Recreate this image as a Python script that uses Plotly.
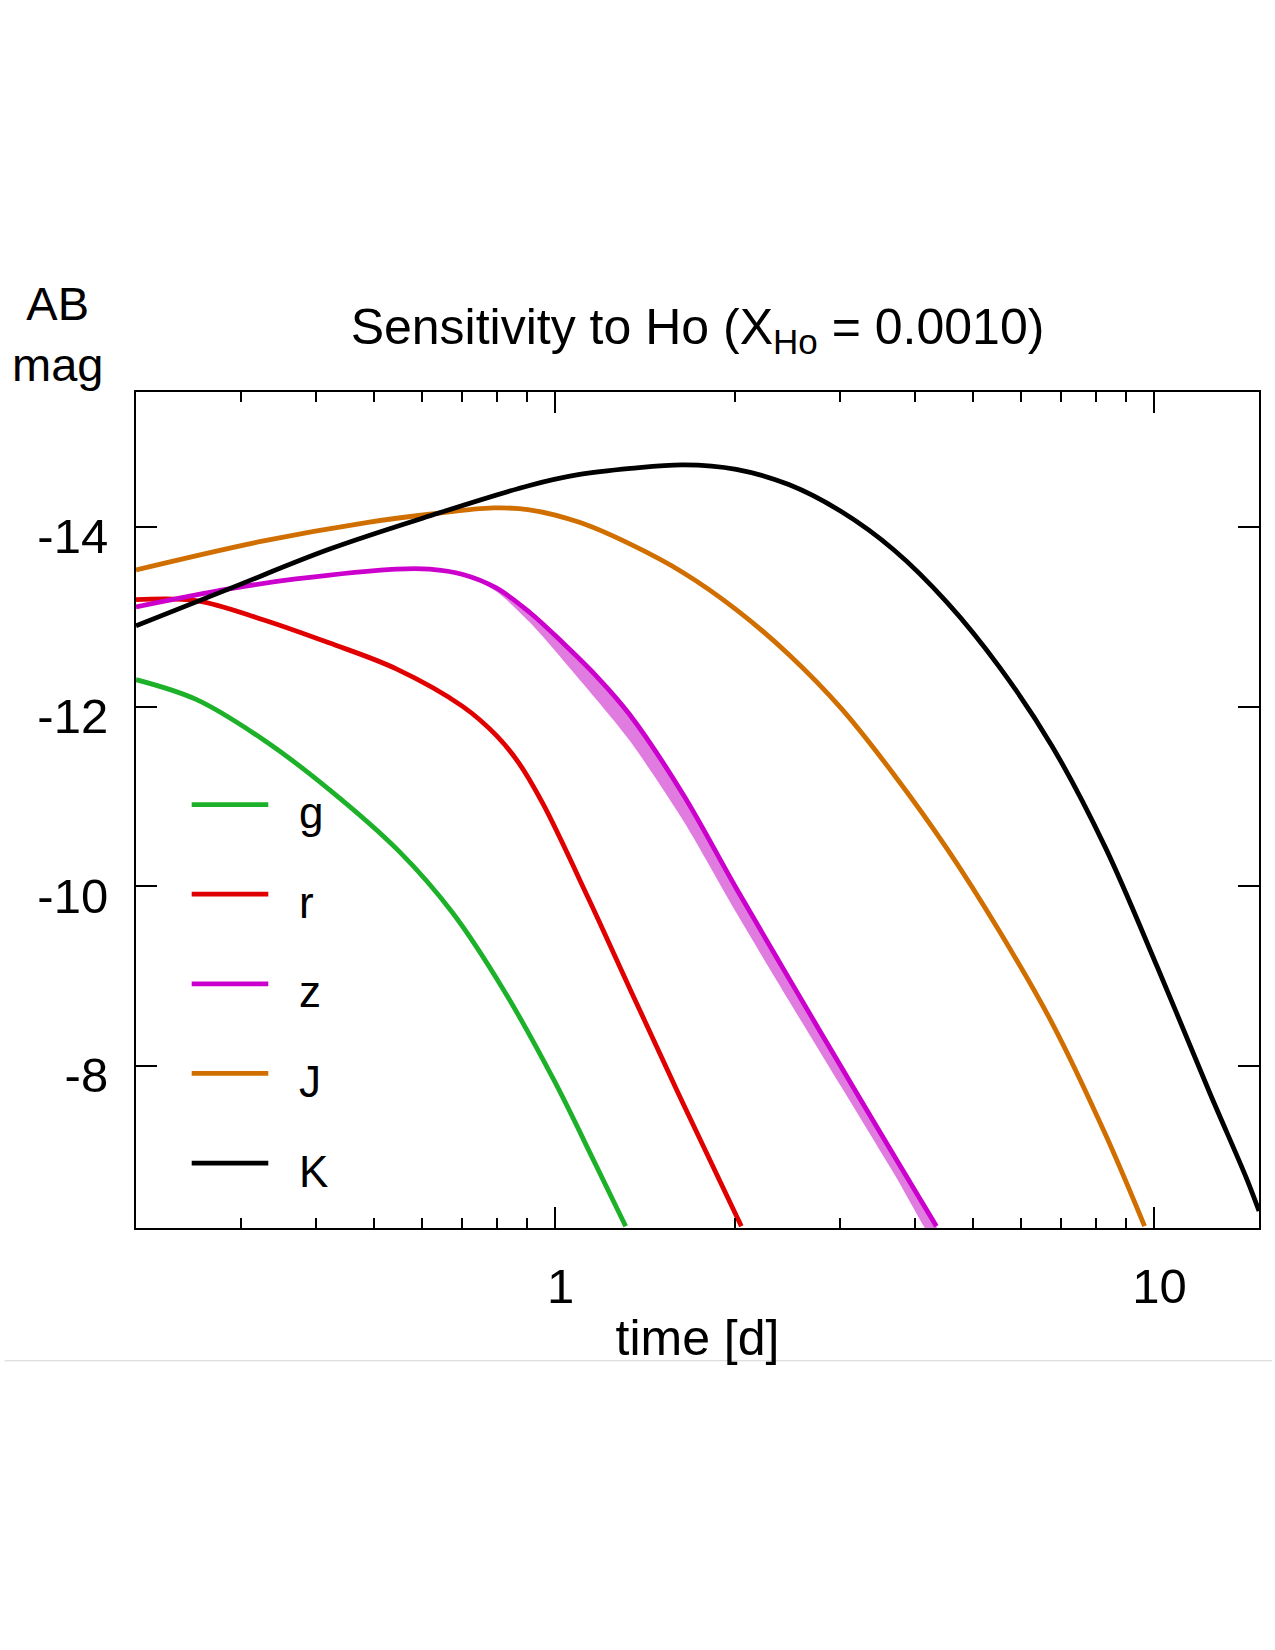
import math
import plotly.graph_objects as go

# ---------------- data ----------------
band_names = ["g", "r", "z", "J", "K"]
band_colors = ["#1db12a", "#e00000", "#cc00cc", "#d06f00", "#000000"]

t_g = [0.2, 0.252, 0.325, 0.42, 0.55, 0.675, 0.82, 1.0, 1.17, 1.314]
m_g = [-12.30, -12.08, -11.64, -11.08, -10.39, -9.71, -8.86, -7.83, -6.91, -6.22]

t_r = [0.2, 0.252, 0.325, 0.42, 0.544, 0.703, 0.799, 0.87, 0.956, 1.14, 1.34, 1.64, 2.05]
m_r = [-13.19, -13.18, -12.97, -12.71, -12.42, -12.00, -11.68, -11.38, -10.92, -9.86, -8.84, -7.58, -6.22]

t_z = [0.2, 0.286, 0.37, 0.544, 0.618, 0.703, 0.799, 0.908, 1.032, 1.174, 1.335, 1.64, 2.01, 2.46, 3.01, 3.69, 4.34]
m_z = [-13.11, -13.31, -13.42, -13.53, -13.53, -13.47, -13.32, -13.05, -12.71, -12.34, -11.91, -11.02, -9.98, -8.98, -7.99, -7.00, -6.22]
m_z_alt = [-13.11, -13.31, -13.42, -13.53, -13.53, -13.47, -13.28, -12.94, -12.52, -12.08, -11.62, -10.73, -9.71, -8.73, -7.77, -6.80, -6.02]

t_J = [0.2, 0.325, 0.488, 0.618, 0.79, 0.908, 1.10, 1.335, 1.64, 2.01, 2.46, 3.01, 3.69, 4.52, 5.53, 6.77, 8.3, 9.66]
m_J = [-13.52, -13.84, -14.05, -14.14, -14.21, -14.19, -14.05, -13.81, -13.49, -13.08, -12.58, -11.98, -11.24, -10.42, -9.50, -8.48, -7.25, -6.22]

t_K = [0.2, 0.286, 0.42, 0.618, 0.908, 1.095, 1.34, 1.64, 2.01, 2.46, 3.01, 3.69, 4.52, 5.53, 6.77, 8.3, 10.15, 12.4, 14.28, 15.0]
m_K = [-12.90, -13.31, -13.75, -14.12, -14.46, -14.58, -14.65, -14.69, -14.64, -14.47, -14.17, -13.74, -13.16, -12.44, -11.56, -10.44, -9.10, -7.71, -6.76, -6.39]

x_major = [1, 10]
x_major_text = ["1", "10"]
x_minor = [0.3, 0.4, 0.5, 0.6, 0.7, 0.8, 0.9, 2, 3, 4, 5, 6, 7, 8, 9]
y_ticks = [-14, -12, -10, -8]
y_ticktext = ["-14", "-12", "-10", "-8"]

title_text = "Sensitivity to Ho (X<sub>Ho</sub> = 0.0010)"
x_title = "time [d]"
y_title = "AB<br>mag"

# ---------------- figure ----------------
FONT = "Liberation Sans, Arial, Helvetica, sans-serif"
W, H = 1275, 1650
L, R, T, B = 136, 16, 392, 422
LW = 4.8

fig = go.Figure()

# sensitivity band for z
fig.add_trace(go.Scatter(
    x=t_z + t_z[::-1], y=m_z + m_z_alt[::-1],
    mode="lines", fill="toself", fillcolor="#e07ce0",
    line=dict(width=0, color="#e07ce0", shape="spline", smoothing=0.8),
    hoverinfo="skip", showlegend=False))

series = {"g": (t_g, m_g), "r": (t_r, m_r), "z": (t_z, m_z), "J": (t_J, m_J), "K": (t_K, m_K)}
for name, col in zip(band_names, band_colors):
    tx, my = series[name]
    fig.add_trace(go.Scatter(
        x=tx, y=my, mode="lines", name=name,
        line=dict(color=col, width=LW, shape="spline", smoothing=1.0),
        showlegend=False))

# hand-drawn legend (long line samples like the original)
leg_x0, leg_x1, leg_tx = 0.0496, 0.1178, 0.1431
leg_top, leg_step = 0.5065, 0.1072
shapes = []
annotations = []
for i, (name, col) in enumerate(zip(band_names, band_colors)):
    yy = leg_top - i * leg_step
    shapes.append(dict(type="line", xref="x domain", yref="y domain",
                       x0=leg_x0, x1=leg_x1, y0=yy, y1=yy,
                       line=dict(color=col, width=LW)))
    annotations.append(dict(text=name, xref="x domain", yref="y domain",
                            x=leg_tx, y=yy, xanchor="left", yanchor="middle",
                            yshift=-8, showarrow=False,
                            font=dict(family=FONT, size=44, color="black")))

# y-axis title at upper left (two lines)
annotations.append(dict(text=y_title, xref="paper", yref="paper",
                        x=-0.0698, y=(1228.3 - 335) / 835.8, xanchor="center", yanchor="middle",
                        align="center", showarrow=False,
                        font=dict(family=FONT, size=47, color="black")))

# faint page separator line below the chart
shapes.append(dict(type="line", xref="paper", yref="paper",
                   x0=-0.117, x1=1.0116, y0=-0.1588, y1=-0.1588,
                   line=dict(color="#d4d4d4", width=1)))

fig.update_layout(
    width=W, height=H,
    margin=dict(l=L, r=R, t=T, b=B, pad=0),
    paper_bgcolor="white", plot_bgcolor="white",
    font=dict(family=FONT, color="black"),
    title=dict(text=title_text, x=0.5, xref="paper", xanchor="center",
               y=1 - 326 / H, yref="container", yanchor="middle",
               font=dict(family=FONT, size=50, color="black")),
    shapes=shapes, annotations=annotations,
    showlegend=False,
)

fig.update_xaxes(
    type="log", range=[math.log10(0.2), math.log10(15)],
    tickmode="array", tickvals=x_major, ticktext=x_major_text,
    ticks="inside", ticklen=21, tickwidth=2, tickcolor="black",
    showline=True, linewidth=2, linecolor="black", mirror="allticks",
    showgrid=False, zeroline=False,
    minor=dict(tickmode="array", tickvals=x_minor, ticks="inside",
               ticklen=10, tickwidth=2, tickcolor="black", showgrid=False),
    tickfont=dict(family=FONT, size=49, color="black"),
    ticklabelstandoff=14, ticklabelshift=6,
    title=dict(text=x_title, font=dict(family=FONT, size=50, color="black"), standoff=8),
)
fig.update_yaxes(
    range=[-6.2, -15.5],
    tickmode="array", tickvals=y_ticks, ticktext=y_ticktext,
    ticks="inside", ticklen=21, tickwidth=2, tickcolor="black",
    showline=True, linewidth=2, linecolor="black", mirror="allticks",
    showgrid=False, zeroline=False,
    tickfont=dict(family=FONT, size=49, color="black"),
    ticklabelstandoff=16, ticklabelshift=-9,
)

fig.write_html("out.html")
